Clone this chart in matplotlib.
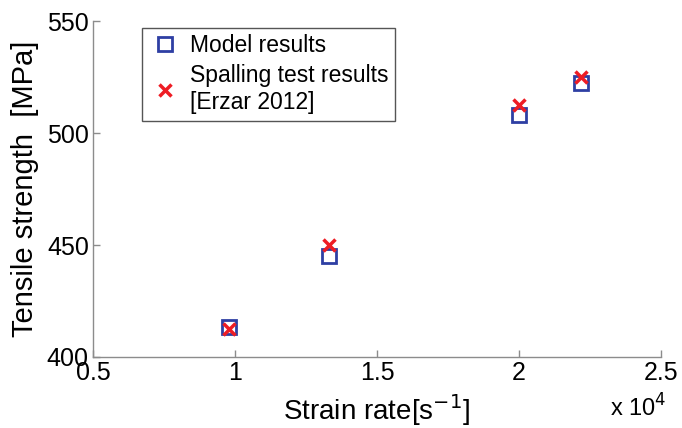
import numpy as np
from matplotlib import pyplot as plt

# data
strain_rate = np.array([9800, 13300, 20000, 22200])      # s^-1
model_strength = [413.5, 445.0, 508.0, 522.5]             # MPa
test_strength = [412.5, 450.0, 512.5, 525.0]              # MPa
x_ticks = [0.5, 1, 1.5, 2, 2.5]
y_ticks = [400, 450, 500, 550]

BLUE = '#2e3fa3'
RED = '#ee1c24'
GRAY = '#8c8c8c'

plt.rcParams['font.family'] = ['Liberation Sans', 'DejaVu Sans']

fig = plt.figure(figsize=(6.82, 4.28), dpi=100)
ax = fig.add_axes([0.1364, 0.1659, 0.8328, 0.7839])

ax.plot(strain_rate / 1e4, model_strength, ls='none', marker='s', ms=10,
        mfc='none', mec=BLUE, mew=2, label='Model results')
ax.plot(strain_rate / 1e4, test_strength, ls='none', marker='x', ms=9,
        mec=RED, mew=2.5, label='Spalling test results\n[Erzar 2012]')

ax.set_xlim(0.5, 2.5)
ax.set_ylim(400, 550)
ax.set_xticks(x_ticks)
ax.set_xticklabels(['0.5', '1', '1.5', '2', '2.5'])
ax.set_yticks(y_ticks)

for s in ['top', 'right']:
    ax.spines[s].set_visible(False)
for s in ['left', 'bottom']:
    ax.spines[s].set_color(GRAY)
    ax.spines[s].set_linewidth(1.0)
ax.tick_params(direction='in', length=5, width=1, color=GRAY,
               labelsize=18, pad=3)

ax.set_xlabel('Strain rate[s$^{-1}$]', fontsize=20, labelpad=5)
ax.set_ylabel('Tensile strength  [MPa]', fontsize=21, labelpad=6)
fig.text(0.977, 0.015, 'x 10$^4$', fontsize=17, ha='right', va='bottom')

leg = ax.legend(loc='upper left', bbox_to_anchor=(0.086, 0.982),
                borderaxespad=0, fontsize=16.5, fancybox=False,
                framealpha=1, edgecolor='#555555', handlelength=1.4,
                handletextpad=0.4, borderpad=0.3, labelspacing=0.3)
leg.get_frame().set_linewidth(1.0)

fig.savefig('out.png', dpi=100)
